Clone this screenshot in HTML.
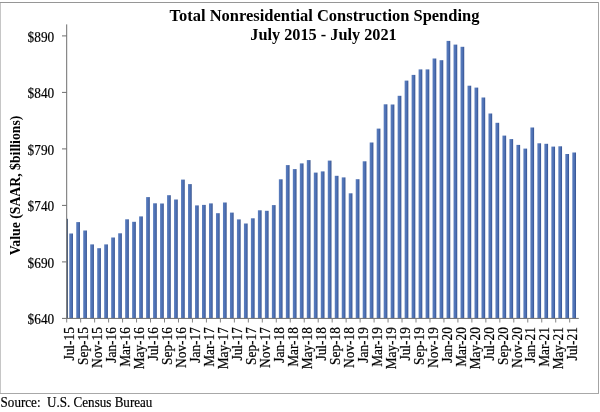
<!DOCTYPE html>
<html><head><meta charset="utf-8"><title>Total Nonresidential Construction Spending</title>
<style>
html,body{margin:0;padding:0;background:#fff;}
body{width:600px;height:412px;overflow:hidden;position:relative;font-family:"Liberation Serif",serif;}
svg{position:absolute;left:0;top:0;display:block;}
text{font-family:"Liberation Serif",serif;fill:#000;}
.b{font-weight:bold;}
.r{stroke:#000;stroke-width:0.2px;}
</style></head><body>
<svg width="600" height="412" viewBox="0 0 600 412">
<defs><linearGradient id="g" x1="0" y1="0" x2="1" y2="0"><stop offset="0" stop-color="#5b7ebf"/><stop offset="0.6" stop-color="#4d70b3"/><stop offset="0.85" stop-color="#3d5c9c"/><stop offset="1" stop-color="#2f4a84"/></linearGradient></defs>
<rect x="0" y="0" width="600" height="412" fill="#fff"/>
<rect x="0" y="2" width="1" height="392" fill="#c6c6c6"/>
<rect x="0" y="2" width="599" height="1" fill="#969696"/>
<rect x="598" y="2" width="1" height="392" fill="#a4a4a4"/>
<rect x="0" y="393" width="599" height="1" fill="#a8a8a8"/>
<text class="b" x="324.5" y="21.2" font-size="16" text-anchor="middle" textLength="309.8" lengthAdjust="spacingAndGlyphs">Total Nonresidential Construction Spending</text>
<text class="b" x="323.5" y="39.7" font-size="16" text-anchor="middle" textLength="146.4" lengthAdjust="spacingAndGlyphs">July 2015 - July 2021</text>
<text class="b" transform="translate(20,185.5) rotate(-90)" font-size="14" text-anchor="middle" textLength="139.7" lengthAdjust="spacingAndGlyphs">Value (SAAR, $billions)</text>
<text class="r" x="54.2" y="41.5" font-size="14" text-anchor="end" textLength="26.6" lengthAdjust="spacingAndGlyphs">$890</text>
<line x1="62" y1="35.9" x2="66.7" y2="35.9" stroke="#6e6e6e" stroke-width="1"/>
<text class="r" x="54.2" y="98.0" font-size="14" text-anchor="end" textLength="26.6" lengthAdjust="spacingAndGlyphs">$840</text>
<line x1="62" y1="92.4" x2="66.7" y2="92.4" stroke="#6e6e6e" stroke-width="1"/>
<text class="r" x="54.2" y="154.5" font-size="14" text-anchor="end" textLength="26.6" lengthAdjust="spacingAndGlyphs">$790</text>
<line x1="62" y1="148.9" x2="66.7" y2="148.9" stroke="#6e6e6e" stroke-width="1"/>
<text class="r" x="54.2" y="211.0" font-size="14" text-anchor="end" textLength="26.6" lengthAdjust="spacingAndGlyphs">$740</text>
<line x1="62" y1="205.4" x2="66.7" y2="205.4" stroke="#6e6e6e" stroke-width="1"/>
<text class="r" x="54.2" y="267.5" font-size="14" text-anchor="end" textLength="26.6" lengthAdjust="spacingAndGlyphs">$690</text>
<line x1="62" y1="261.9" x2="66.7" y2="261.9" stroke="#6e6e6e" stroke-width="1"/>
<text class="r" x="54.2" y="324.0" font-size="14" text-anchor="end" textLength="26.6" lengthAdjust="spacingAndGlyphs">$640</text>
<line x1="62" y1="318.4" x2="66.7" y2="318.4" stroke="#6e6e6e" stroke-width="1"/>
<g fill="url(#g)">
<rect x="66.7" y="218.8" width="1.3" height="99.6" fill="#4d607f"/>
<rect x="69.25" y="233.5" width="3.7" height="84.9"/>
<rect x="76.24" y="222.1" width="3.7" height="96.3"/>
<rect x="83.22" y="230.5" width="3.7" height="87.9"/>
<rect x="90.21" y="244.4" width="3.7" height="74.0"/>
<rect x="97.20" y="248.2" width="3.7" height="70.2"/>
<rect x="104.19" y="244.4" width="3.7" height="74.0"/>
<rect x="111.17" y="237.5" width="3.7" height="80.9"/>
<rect x="118.16" y="233.3" width="3.7" height="85.1"/>
<rect x="125.15" y="219.3" width="3.7" height="99.1"/>
<rect x="132.13" y="221.8" width="3.7" height="96.6"/>
<rect x="139.12" y="216.4" width="3.7" height="102.0"/>
<rect x="146.11" y="197.1" width="3.7" height="121.3"/>
<rect x="153.09" y="203.3" width="3.7" height="115.1"/>
<rect x="160.08" y="203.5" width="3.7" height="114.9"/>
<rect x="167.07" y="195.2" width="3.7" height="123.2"/>
<rect x="174.06" y="199.5" width="3.7" height="118.9"/>
<rect x="181.04" y="179.6" width="3.7" height="138.8"/>
<rect x="188.03" y="184.1" width="3.7" height="134.3"/>
<rect x="195.02" y="205.4" width="3.7" height="113.0"/>
<rect x="202.00" y="204.9" width="3.7" height="113.5"/>
<rect x="208.99" y="203.4" width="3.7" height="115.0"/>
<rect x="215.98" y="213.2" width="3.7" height="105.2"/>
<rect x="222.96" y="202.5" width="3.7" height="115.9"/>
<rect x="229.95" y="212.6" width="3.7" height="105.8"/>
<rect x="236.94" y="219.4" width="3.7" height="99.0"/>
<rect x="243.93" y="223.5" width="3.7" height="94.9"/>
<rect x="250.91" y="218.3" width="3.7" height="100.1"/>
<rect x="257.90" y="210.3" width="3.7" height="108.1"/>
<rect x="264.89" y="210.8" width="3.7" height="107.6"/>
<rect x="271.87" y="205.1" width="3.7" height="113.3"/>
<rect x="278.86" y="179.3" width="3.7" height="139.1"/>
<rect x="285.85" y="165.1" width="3.7" height="153.3"/>
<rect x="292.83" y="169.1" width="3.7" height="149.3"/>
<rect x="299.82" y="163.4" width="3.7" height="155.0"/>
<rect x="306.81" y="160.1" width="3.7" height="158.3"/>
<rect x="313.80" y="172.6" width="3.7" height="145.8"/>
<rect x="320.78" y="171.4" width="3.7" height="147.0"/>
<rect x="327.77" y="160.6" width="3.7" height="157.8"/>
<rect x="334.76" y="175.8" width="3.7" height="142.6"/>
<rect x="341.74" y="177.4" width="3.7" height="141.0"/>
<rect x="348.73" y="193.3" width="3.7" height="125.1"/>
<rect x="355.72" y="179.2" width="3.7" height="139.2"/>
<rect x="362.70" y="161.3" width="3.7" height="157.1"/>
<rect x="369.69" y="142.5" width="3.7" height="175.9"/>
<rect x="376.68" y="128.6" width="3.7" height="189.8"/>
<rect x="383.67" y="104.3" width="3.7" height="214.1"/>
<rect x="390.65" y="104.5" width="3.7" height="213.9"/>
<rect x="397.64" y="95.8" width="3.7" height="222.6"/>
<rect x="404.63" y="80.6" width="3.7" height="237.8"/>
<rect x="411.61" y="74.9" width="3.7" height="243.5"/>
<rect x="418.60" y="69.4" width="3.7" height="249.0"/>
<rect x="425.59" y="69.4" width="3.7" height="249.0"/>
<rect x="432.57" y="58.5" width="3.7" height="259.9"/>
<rect x="439.56" y="60.2" width="3.7" height="258.2"/>
<rect x="446.55" y="40.9" width="3.7" height="277.5"/>
<rect x="453.54" y="44.6" width="3.7" height="273.8"/>
<rect x="460.52" y="46.8" width="3.7" height="271.6"/>
<rect x="467.51" y="85.7" width="3.7" height="232.7"/>
<rect x="474.50" y="87.6" width="3.7" height="230.8"/>
<rect x="481.48" y="97.5" width="3.7" height="220.9"/>
<rect x="488.47" y="113.5" width="3.7" height="204.9"/>
<rect x="495.46" y="122.8" width="3.7" height="195.6"/>
<rect x="502.44" y="135.6" width="3.7" height="182.8"/>
<rect x="509.43" y="139.1" width="3.7" height="179.3"/>
<rect x="516.42" y="144.9" width="3.7" height="173.5"/>
<rect x="523.40" y="148.6" width="3.7" height="169.8"/>
<rect x="530.39" y="127.5" width="3.7" height="190.9"/>
<rect x="537.38" y="143.3" width="3.7" height="175.1"/>
<rect x="544.37" y="143.8" width="3.7" height="174.6"/>
<rect x="551.35" y="146.6" width="3.7" height="171.8"/>
<rect x="558.34" y="146.3" width="3.7" height="172.1"/>
<rect x="565.33" y="154.0" width="3.7" height="164.4"/>
<rect x="572.31" y="152.5" width="3.7" height="165.9"/>
</g>
<line x1="66.7" y1="24.4" x2="66.7" y2="318.9" stroke="#6e6e6e" stroke-width="1"/>
<line x1="66.2" y1="318.4" x2="578.8" y2="318.4" stroke="#6e6e6e" stroke-width="1"/>
<line x1="66.70" y1="318.4" x2="66.70" y2="322.5" stroke="#858585" stroke-width="1"/>
<text class="r" transform="translate(74.40,327.2) rotate(-90) scale(1,1.06)" font-size="13.33" text-anchor="end">Jul-15</text>
<line x1="80.67" y1="318.4" x2="80.67" y2="322.5" stroke="#858585" stroke-width="1"/>
<text class="r" transform="translate(88.37,327.2) rotate(-90) scale(1,1.06)" font-size="13.33" text-anchor="end">Sep-15</text>
<line x1="94.64" y1="318.4" x2="94.64" y2="322.5" stroke="#858585" stroke-width="1"/>
<text class="r" transform="translate(102.34,327.2) rotate(-90) scale(1,1.06)" font-size="13.33" text-anchor="end">Nov-15</text>
<line x1="108.62" y1="318.4" x2="108.62" y2="322.5" stroke="#858585" stroke-width="1"/>
<text class="r" transform="translate(116.32,327.2) rotate(-90) scale(1,1.06)" font-size="13.33" text-anchor="end">Jan-16</text>
<line x1="122.59" y1="318.4" x2="122.59" y2="322.5" stroke="#858585" stroke-width="1"/>
<text class="r" transform="translate(130.29,327.2) rotate(-90) scale(1,1.06)" font-size="13.33" text-anchor="end">Mar-16</text>
<line x1="136.56" y1="318.4" x2="136.56" y2="322.5" stroke="#858585" stroke-width="1"/>
<text class="r" transform="translate(144.26,327.2) rotate(-90) scale(1,1.06)" font-size="13.33" text-anchor="end">May-16</text>
<line x1="150.53" y1="318.4" x2="150.53" y2="322.5" stroke="#858585" stroke-width="1"/>
<text class="r" transform="translate(158.23,327.2) rotate(-90) scale(1,1.06)" font-size="13.33" text-anchor="end">Jul-16</text>
<line x1="164.50" y1="318.4" x2="164.50" y2="322.5" stroke="#858585" stroke-width="1"/>
<text class="r" transform="translate(172.20,327.2) rotate(-90) scale(1,1.06)" font-size="13.33" text-anchor="end">Sep-16</text>
<line x1="178.48" y1="318.4" x2="178.48" y2="322.5" stroke="#858585" stroke-width="1"/>
<text class="r" transform="translate(186.18,327.2) rotate(-90) scale(1,1.06)" font-size="13.33" text-anchor="end">Nov-16</text>
<line x1="192.45" y1="318.4" x2="192.45" y2="322.5" stroke="#858585" stroke-width="1"/>
<text class="r" transform="translate(200.15,327.2) rotate(-90) scale(1,1.06)" font-size="13.33" text-anchor="end">Jan-17</text>
<line x1="206.42" y1="318.4" x2="206.42" y2="322.5" stroke="#858585" stroke-width="1"/>
<text class="r" transform="translate(214.12,327.2) rotate(-90) scale(1,1.06)" font-size="13.33" text-anchor="end">Mar-17</text>
<line x1="220.39" y1="318.4" x2="220.39" y2="322.5" stroke="#858585" stroke-width="1"/>
<text class="r" transform="translate(228.09,327.2) rotate(-90) scale(1,1.06)" font-size="13.33" text-anchor="end">May-17</text>
<line x1="234.36" y1="318.4" x2="234.36" y2="322.5" stroke="#858585" stroke-width="1"/>
<text class="r" transform="translate(242.06,327.2) rotate(-90) scale(1,1.06)" font-size="13.33" text-anchor="end">Jul-17</text>
<line x1="248.34" y1="318.4" x2="248.34" y2="322.5" stroke="#858585" stroke-width="1"/>
<text class="r" transform="translate(256.04,327.2) rotate(-90) scale(1,1.06)" font-size="13.33" text-anchor="end">Sep-17</text>
<line x1="262.31" y1="318.4" x2="262.31" y2="322.5" stroke="#858585" stroke-width="1"/>
<text class="r" transform="translate(270.01,327.2) rotate(-90) scale(1,1.06)" font-size="13.33" text-anchor="end">Nov-17</text>
<line x1="276.28" y1="318.4" x2="276.28" y2="322.5" stroke="#858585" stroke-width="1"/>
<text class="r" transform="translate(283.98,327.2) rotate(-90) scale(1,1.06)" font-size="13.33" text-anchor="end">Jan-18</text>
<line x1="290.25" y1="318.4" x2="290.25" y2="322.5" stroke="#858585" stroke-width="1"/>
<text class="r" transform="translate(297.95,327.2) rotate(-90) scale(1,1.06)" font-size="13.33" text-anchor="end">Mar-18</text>
<line x1="304.22" y1="318.4" x2="304.22" y2="322.5" stroke="#858585" stroke-width="1"/>
<text class="r" transform="translate(311.92,327.2) rotate(-90) scale(1,1.06)" font-size="13.33" text-anchor="end">May-18</text>
<line x1="318.20" y1="318.4" x2="318.20" y2="322.5" stroke="#858585" stroke-width="1"/>
<text class="r" transform="translate(325.90,327.2) rotate(-90) scale(1,1.06)" font-size="13.33" text-anchor="end">Jul-18</text>
<line x1="332.17" y1="318.4" x2="332.17" y2="322.5" stroke="#858585" stroke-width="1"/>
<text class="r" transform="translate(339.87,327.2) rotate(-90) scale(1,1.06)" font-size="13.33" text-anchor="end">Sep-18</text>
<line x1="346.14" y1="318.4" x2="346.14" y2="322.5" stroke="#858585" stroke-width="1"/>
<text class="r" transform="translate(353.84,327.2) rotate(-90) scale(1,1.06)" font-size="13.33" text-anchor="end">Nov-18</text>
<line x1="360.11" y1="318.4" x2="360.11" y2="322.5" stroke="#858585" stroke-width="1"/>
<text class="r" transform="translate(367.81,327.2) rotate(-90) scale(1,1.06)" font-size="13.33" text-anchor="end">Jan-19</text>
<line x1="374.08" y1="318.4" x2="374.08" y2="322.5" stroke="#858585" stroke-width="1"/>
<text class="r" transform="translate(381.78,327.2) rotate(-90) scale(1,1.06)" font-size="13.33" text-anchor="end">Mar-19</text>
<line x1="388.06" y1="318.4" x2="388.06" y2="322.5" stroke="#858585" stroke-width="1"/>
<text class="r" transform="translate(395.76,327.2) rotate(-90) scale(1,1.06)" font-size="13.33" text-anchor="end">May-19</text>
<line x1="402.03" y1="318.4" x2="402.03" y2="322.5" stroke="#858585" stroke-width="1"/>
<text class="r" transform="translate(409.73,327.2) rotate(-90) scale(1,1.06)" font-size="13.33" text-anchor="end">Jul-19</text>
<line x1="416.00" y1="318.4" x2="416.00" y2="322.5" stroke="#858585" stroke-width="1"/>
<text class="r" transform="translate(423.70,327.2) rotate(-90) scale(1,1.06)" font-size="13.33" text-anchor="end">Sep-19</text>
<line x1="429.97" y1="318.4" x2="429.97" y2="322.5" stroke="#858585" stroke-width="1"/>
<text class="r" transform="translate(437.67,327.2) rotate(-90) scale(1,1.06)" font-size="13.33" text-anchor="end">Nov-19</text>
<line x1="443.94" y1="318.4" x2="443.94" y2="322.5" stroke="#858585" stroke-width="1"/>
<text class="r" transform="translate(451.64,327.2) rotate(-90) scale(1,1.06)" font-size="13.33" text-anchor="end">Jan-20</text>
<line x1="457.92" y1="318.4" x2="457.92" y2="322.5" stroke="#858585" stroke-width="1"/>
<text class="r" transform="translate(465.62,327.2) rotate(-90) scale(1,1.06)" font-size="13.33" text-anchor="end">Mar-20</text>
<line x1="471.89" y1="318.4" x2="471.89" y2="322.5" stroke="#858585" stroke-width="1"/>
<text class="r" transform="translate(479.59,327.2) rotate(-90) scale(1,1.06)" font-size="13.33" text-anchor="end">May-20</text>
<line x1="485.86" y1="318.4" x2="485.86" y2="322.5" stroke="#858585" stroke-width="1"/>
<text class="r" transform="translate(493.56,327.2) rotate(-90) scale(1,1.06)" font-size="13.33" text-anchor="end">Jul-20</text>
<line x1="499.83" y1="318.4" x2="499.83" y2="322.5" stroke="#858585" stroke-width="1"/>
<text class="r" transform="translate(507.53,327.2) rotate(-90) scale(1,1.06)" font-size="13.33" text-anchor="end">Sep-20</text>
<line x1="513.80" y1="318.4" x2="513.80" y2="322.5" stroke="#858585" stroke-width="1"/>
<text class="r" transform="translate(521.50,327.2) rotate(-90) scale(1,1.06)" font-size="13.33" text-anchor="end">Nov-20</text>
<line x1="527.78" y1="318.4" x2="527.78" y2="322.5" stroke="#858585" stroke-width="1"/>
<text class="r" transform="translate(535.48,327.2) rotate(-90) scale(1,1.06)" font-size="13.33" text-anchor="end">Jan-21</text>
<line x1="541.75" y1="318.4" x2="541.75" y2="322.5" stroke="#858585" stroke-width="1"/>
<text class="r" transform="translate(549.45,327.2) rotate(-90) scale(1,1.06)" font-size="13.33" text-anchor="end">Mar-21</text>
<line x1="555.72" y1="318.4" x2="555.72" y2="322.5" stroke="#858585" stroke-width="1"/>
<text class="r" transform="translate(563.42,327.2) rotate(-90) scale(1,1.06)" font-size="13.33" text-anchor="end">May-21</text>
<line x1="569.69" y1="318.4" x2="569.69" y2="322.5" stroke="#858585" stroke-width="1"/>
<text class="r" transform="translate(577.39,327.2) rotate(-90) scale(1,1.06)" font-size="13.33" text-anchor="end">Jul-21</text>
<text class="r" x="0.6" y="406.8" font-size="14.67" textLength="151.8" lengthAdjust="spacingAndGlyphs" xml:space="preserve">Source:  U.S. Census Bureau</text>
</svg></body></html>
